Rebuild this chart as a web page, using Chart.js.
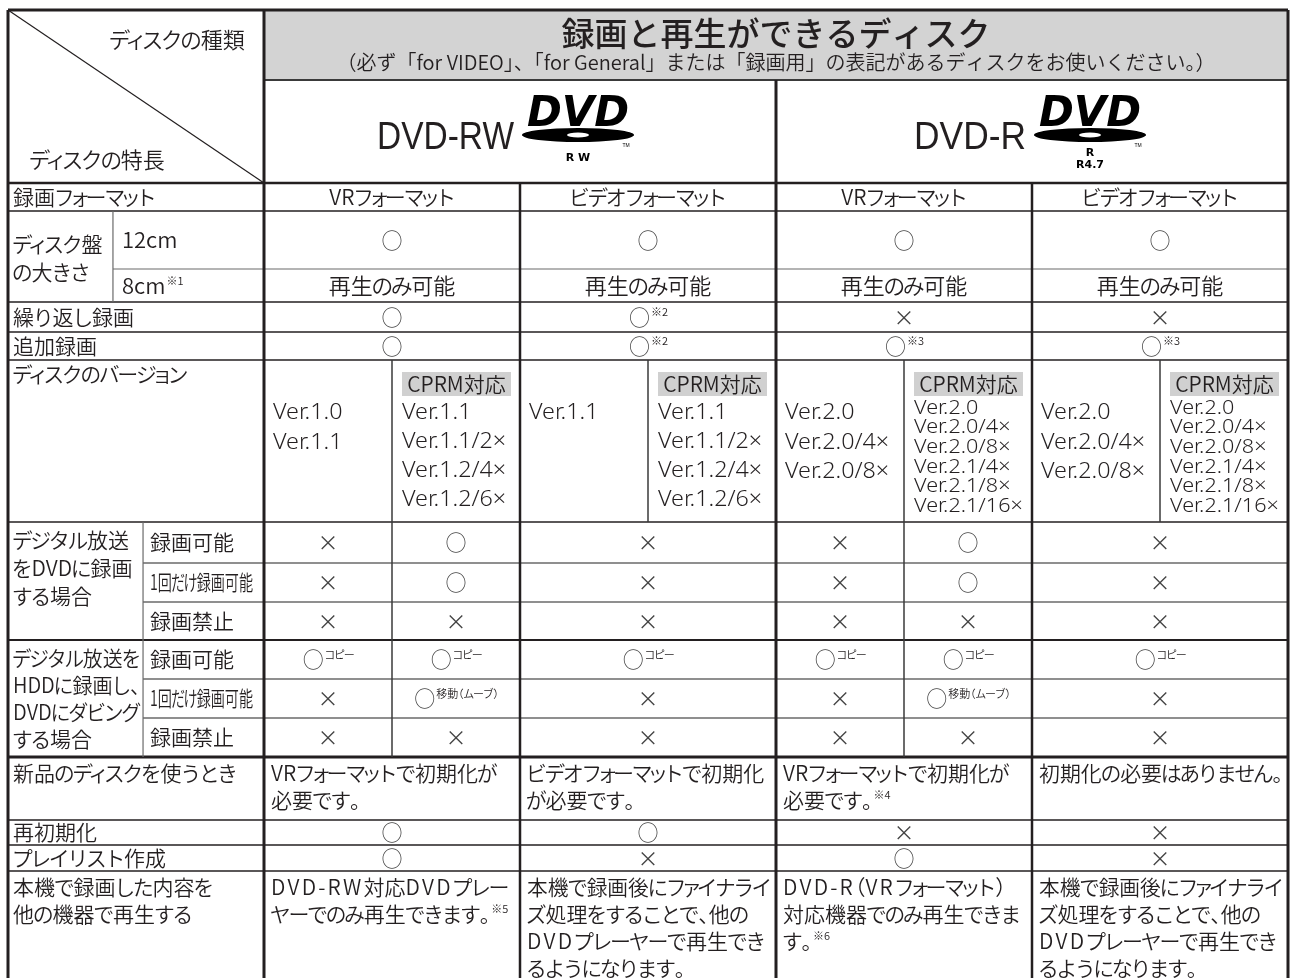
<!DOCTYPE html>
<html lang="ja">
<head>
<meta charset="utf-8">
<title>録画と再生ができるディスク</title>
<script src="https://cdn.jsdelivr.net/npm/chart.js@4.4.1/dist/chart.umd.min.js"></script>
<style>
  html, body { margin: 0; padding: 0; background: #fff; }
  #wrap { width: 1290px; height: 978px; position: relative; }
</style>
</head>
<body>
<div id="wrap"><canvas id="discChart"></canvas></div>
<script>
// ---- table content ----
var titleText = '録画と再生ができるディスク';
var subTitle = '（必ず「for VIDEO」、「for General」または「録画用」の表記があるディスクをお使いください。）';
var cornerTop = 'ディスクの種類';
var cornerBottom = 'ディスクの特長';
var discTypes = ['DVD-RW', 'DVD-R'];
var discMarks = [['R W'], ['R', 'R4.7']];

// left column labels
var rowLabels = ['録画フォーマット', ['ディスク盤', 'の大きさ'], '繰り返し録画', '追加録画', 'ディスクのバージョン'];
var sizeLabels = ['12cm', '8cm^※1'];
var dvdLabel = ['デジタル放送', 'をDVDに録画', 'する場合'];
var hddLabel = ['デジタル放送を', 'HDDに録画し、', 'DVDにダビング', 'する場合'];
var permitLabels = ['録画可能', '1回だけ録画可能', '録画禁止'];
var lowerLabels = [['新品のディスクを使うとき'], ['再初期化'], ['プレイリスト作成'], ['本機で録画した内容を', '他の機器で再生する']];

// one entry per column: DVD-RW VR, DVD-RW video, DVD-R VR, DVD-R video
var formats = ['VRフォーマット', 'ビデオフォーマット', 'VRフォーマット', 'ビデオフォーマット'];
var size12cm = ['○', '○', '○', '○'];
var size8cm = ['再生のみ可能', '再生のみ可能', '再生のみ可能', '再生のみ可能'];
var repeatRec = ['○', '○^※2', '×', '×'];
var addRec = ['○', '○^※2', '○^※3', '○^※3'];
var versions = [
  ['Ver.1.0', 'Ver.1.1'],
  ['Ver.1.1'],
  ['Ver.2.0', 'Ver.2.0/4×', 'Ver.2.0/8×'],
  ['Ver.2.0', 'Ver.2.0/4×', 'Ver.2.0/8×']
];
var cprmLabel = 'CPRM対応';
var cprmVersions = [
  ['Ver.1.1', 'Ver.1.1/2×', 'Ver.1.2/4×', 'Ver.1.2/6×'],
  ['Ver.1.1', 'Ver.1.1/2×', 'Ver.1.2/4×', 'Ver.1.2/6×'],
  ['Ver.2.0', 'Ver.2.0/4×', 'Ver.2.0/8×', 'Ver.2.1/4×', 'Ver.2.1/8×', 'Ver.2.1/16×'],
  ['Ver.2.0', 'Ver.2.0/4×', 'Ver.2.0/8×', 'Ver.2.1/4×', 'Ver.2.1/8×', 'Ver.2.1/16×']
];
// two entries = split into (normal disc, CPRM disc)
var dvdOk = [['×', '○'], ['×'], ['×', '○'], ['×']];
var dvdOnce = [['×', '○'], ['×'], ['×', '○'], ['×']];
var dvdNo = [['×', '×'], ['×'], ['×', '×'], ['×']];
var hddOk = [['○^コピー', '○^コピー'], ['○^コピー'], ['○^コピー', '○^コピー'], ['○^コピー']];
var hddOnce = [['×', '○^移動（ムーブ）'], ['×'], ['×', '○^移動（ムーブ）'], ['×']];
var hddNo = [['×', '×'], ['×'], ['×', '×'], ['×']];
var newDisc = [
  ['VRフォーマットで初期化が', '必要です。'],
  ['ビデオフォーマットで初期化', 'が必要です。'],
  ['VRフォーマットで初期化が', '必要です。^※4'],
  ['初期化の必要はありません。']
];
var reinit = ['○', '○', '×', '×'];
var playlist = ['○', '×', '○', '×'];
var otherPlay = [
  ['DVD-RW対応DVDプレー', 'ヤーでのみ再生できます。^※5'],
  ['本機で録画後にファイナライ', 'ズ処理をすることで、他の', 'DVDプレーヤーで再生でき', 'るようになります。'],
  ['DVD-R（VRフォーマット）', '対応機器でのみ再生できま', 'す。^※6'],
  ['本機で録画後にファイナライ', 'ズ処理をすることで、他の', 'DVDプレーヤーで再生でき', 'るようになります。']
];

// ---- layout (row boundaries from the top of the table) ----
var rowEdges = [0, 70, 173, 201, 259, 292, 322, 350, 512, 553, 592, 630, 669, 708, 747, 810, 835, 861, 968];
var sizeDivX = -1.18;    // 12cm / 8cm sub column
var permitDivX = -0.945; // 録画可能 sub column

var FONT = '"Noto Sans CJK JP", "Noto Sans", sans-serif';
var LATIN = '"Noto Sans", "Liberation Sans", sans-serif';
var INK = '#231f20';
var WEIGHT = 350;

function setFont(ctx, size, family, weight) {
  ctx.font = (weight || WEIGHT) + ' ' + size + 'px ' + (family || FONT);
}

// rough proportional kana spacing: [advance, ink shift] in em
function charBox(ch) {
  if ('ぁぃぅぇぉっゃゅょァィゥェォッャュョ'.indexOf(ch) >= 0) return [0.62, -0.19];
  if (ch == 'ー') return [0.9, -0.05];
  if ('「（'.indexOf(ch) >= 0) return [0.5, -0.5];
  if ('」）、。'.indexOf(ch) >= 0) return [0.5, 0];
  if (/[\u3040-\u30ff]/.test(ch)) return [0.88, -0.06];
  return null;
}

function layoutJp(ctx, s, size, track) {
  var items = [], w = 0;
  for (var ch of s) {
    var b = charBox(ch), adv, dx = 0;
    if (b) { adv = b[0] * size; dx = b[1] * size; }
    else {
      adv = ctx.measureText(ch).width;
      if (ch.charCodeAt(0) < 0x2000 && ch != '×') adv += track || 0;
    }
    items.push({ ch: ch, x: w + dx });
    w += adv;
  }
  return { items: items, width: w };
}

function drawJp(ctx, lay, x, y, squeeze) {
  ctx.save();
  ctx.translate(x, y);
  if (squeeze < 1) ctx.scale(squeeze, 1);
  lay.items.forEach(function(it) { ctx.fillText(it.ch, it.x, 0); });
  ctx.restore();
}

// text with an optional superscript note after "^"
// align: 'left', 'center' or 'right'
function noteText(ctx, s, x, cy, size, align, maxW, track) {
  var parts = s.split('^');
  ctx.textAlign = 'left';
  ctx.textBaseline = 'middle';
  setFont(ctx, size);
  var main = layoutJp(ctx, parts[0], size, track);
  var sq = maxW && main.width > maxW ? maxW / main.width : 1;
  var w0 = main.width * sq;
  var note = null;
  if (parts[1]) {
    setFont(ctx, 11);
    note = layoutJp(ctx, parts[1], 11, 0);
  }
  var w1 = note ? note.width : 0;
  var x0 = x;
  if (align == 'center') x0 = x - (w0 + w1) / 2;
  if (align == 'right') x0 = x - (w0 + w1);
  setFont(ctx, size);
  ctx.fillStyle = (parts[0] == '○' || parts[0] == '×') ? '#444' : INK;
  drawJp(ctx, main, x0, cy, sq);
  if (note) {
    setFont(ctx, 11);
    ctx.fillStyle = INK;
    drawJp(ctx, note, x0 + w0 + 1, cy - 5, 1);
  }
}

function latinText(ctx, s, x, y, size, stretch) {
  setFont(ctx, size, LATIN);
  ctx.save();
  ctx.translate(x, y);
  ctx.scale(stretch, 1);
  ctx.fillText(s, 0, 0);
  ctx.restore();
}

function drawDvdLogo(ctx, cx, top, marks) {
  ctx.save();
  ctx.fillStyle = '#000';
  ctx.textAlign = 'center';
  ctx.textBaseline = 'alphabetic';
  ctx.font = 'italic 900 42px "DejaVu Sans", sans-serif';
  ctx.fillText('DVD', cx, top + 31, 110);
  ctx.beginPath();
  ctx.ellipse(cx, top + 40, 56, 7, 0, 0, Math.PI * 2);
  ctx.fill();
  ctx.fillStyle = '#fff';
  ctx.beginPath();
  ctx.ellipse(cx, top + 40, 11, 2.6, 0, 0, Math.PI * 2);
  ctx.fill();
  ctx.fillStyle = '#000';
  ctx.font = 'bold 11px "DejaVu Sans", sans-serif';
  if (marks.length == 1) {
    ctx.fillText(marks[0], cx, top + 66);
  } else {
    ctx.fillText(marks[0], cx, top + 61);
    ctx.fillText(marks[1], cx, top + 73);
  }
  ctx.font = '5px sans-serif';
  ctx.fillText('TM', cx + 48, top + 52);
  ctx.restore();
}

var tablePlugin = {
  id: 'discTable',
  afterDraw: function(chart) {
    var ctx = chart.ctx;
    var xs = chart.scales.x, ys = chart.scales.y;
    var X = function(v) { return xs.getPixelForValue(v); };
    var Y = function(v) { return ys.getPixelForValue(v); };
    var rowTop = function(r) { return Y(rowEdges[r]); };
    var rowMid = function(r) { return (Y(rowEdges[r]) + Y(rowEdges[r + 1])) / 2; };

    function hline(v, x0, x1, w, c) {
      ctx.beginPath(); ctx.lineWidth = w; ctx.strokeStyle = c;
      ctx.moveTo(X(x0), Y(v)); ctx.lineTo(X(x1), Y(v)); ctx.stroke();
    }
    function vline(v, y0, y1, w, c) {
      ctx.beginPath(); ctx.lineWidth = w; ctx.strokeStyle = c;
      ctx.moveTo(X(v), Y(y0)); ctx.lineTo(X(v), Y(y1)); ctx.stroke();
    }

    ctx.save();
    // grey title band
    ctx.fillStyle = '#d3d3d3';
    ctx.fillRect(X(0), Y(0), X(8) - X(0), Y(rowEdges[1]) - Y(0));

    // header
    ctx.fillStyle = INK;
    ctx.textAlign = 'center';
    ctx.textBaseline = 'middle';
    setFont(ctx, 33, FONT, 500);
    ctx.fillText(titleText, X(4), Y(23));
    setFont(ctx, 20);
    ctx.fillText(subTitle, X(4), Y(52), 952);

    noteText(ctx, cornerTop, X(-0.15), Y(30), 22, 'right');
    noteText(ctx, cornerBottom, X(-1.83), Y(150), 22, 'left');

    discTypes.forEach(function(name, i) {
      var cx = X(4 * i + 2);
      ctx.fillStyle = INK;
      ctx.textAlign = 'right';
      ctx.textBaseline = 'alphabetic';
      ctx.font = '38px "Liberation Sans", sans-serif';
      ctx.fillText(name, cx - 6, Y(139), i == 0 ? 137 : 112);
      drawDvdLogo(ctx, cx + 58, Y(85), discMarks[i]);
    });

    // left labels
    var lx = X(-2) + 5;
    var leftW = X(permitDivX) - lx - 3;
    noteText(ctx, rowLabels[0], lx, rowMid(2), 21, 'left');
    noteText(ctx, rowLabels[1][0], lx, Y(234), 21, 'left');
    noteText(ctx, rowLabels[1][1], lx, Y(262), 21, 'left');
    noteText(ctx, sizeLabels[0], X(sizeDivX) + 9, rowMid(3), 22, 'left');
    noteText(ctx, sizeLabels[1], X(sizeDivX) + 9, rowMid(4), 22, 'left');
    noteText(ctx, rowLabels[2], lx, rowMid(5), 21, 'left');
    noteText(ctx, rowLabels[3], lx, rowMid(6), 21, 'left');
    noteText(ctx, rowLabels[4], lx, rowTop(7) + 14, 21, 'left');
    dvdLabel.forEach(function(s, i) { noteText(ctx, s, lx, rowTop(8) + 18 + i * 28, 21, 'left', leftW); });
    hddLabel.forEach(function(s, i) { noteText(ctx, s, lx, rowTop(11) + 18 + i * 27, 21, 'left', leftW); });
    [8, 11].forEach(function(r0) {
      permitLabels.forEach(function(s, i) {
        noteText(ctx, s, X(permitDivX) + 7, rowMid(r0 + i), 21, 'left', i == 1 ? 103 : 0);
      });
    });
    lowerLabels.forEach(function(lines, i) {
      var r = 14 + i;
      lines.forEach(function(s, j) {
        var cy = lines.length == 1 && r != 14 ? rowMid(r) : rowTop(r) + 16 + j * 27;
        noteText(ctx, s, lx, cy, 21, 'left');
      });
    });

    // simple rows: one value per column
    function simpleRow(arr, r, size) {
      arr.forEach(function(s, k) { noteText(ctx, s, X(2 * k + 1), rowMid(r), size, 'center'); });
    }
    simpleRow(formats, 2, 21);
    simpleRow(size12cm, 3, 21);
    simpleRow(size8cm, 4, 22);
    simpleRow(repeatRec, 5, 21);
    simpleRow(addRec, 6, 21);
    simpleRow(reinit, 15, 21);
    simpleRow(playlist, 16, 21);

    // split rows
    function splitRow(arr, r) {
      arr.forEach(function(cell, k) {
        if (cell.length == 1) noteText(ctx, cell[0], X(2 * k + 1), rowMid(r), 21, 'center');
        else cell.forEach(function(s, h) { noteText(ctx, s, X(2 * k + h + 0.5), rowMid(r), 21, 'center'); });
      });
    }
    [dvdOk, dvdOnce, dvdNo, hddOk, hddOnce, hddNo].forEach(function(arr, i) { splitRow(arr, 8 + i); });

    // versions
    var vTop = rowTop(7);
    versions.forEach(function(list, k) {
      var x0 = X(2 * k) + 9;
      ctx.fillStyle = INK;
      ctx.textAlign = 'left';
      ctx.textBaseline = 'middle';
      list.forEach(function(s, j) { latinText(ctx, s, x0, vTop + 53 + j * 29.5, 22, 1.06); });

      var hx = X(2 * k + 1);
      ctx.fillStyle = '#d0d0d0';
      ctx.fillRect(hx + 10, vTop + 12, 109, 24);
      ctx.fillStyle = INK;
      setFont(ctx, 21);
      ctx.textAlign = 'center';
      ctx.fillText(cprmLabel, hx + 64.5, vTop + 24.5, 104);
      ctx.textAlign = 'left';
      var cp = cprmVersions[k];
      cp.forEach(function(s, j) {
        if (cp.length > 4) latinText(ctx, s, hx + 10, vTop + 48 + j * 19.6, 20, 1.08);
        else latinText(ctx, s, hx + 10, vTop + 53 + j * 29, 22, 1.06);
      });
    });

    // paragraph rows
    [[newDisc, 14, 0], [otherPlay, 17, 2.2]].forEach(function(grp) {
      grp[0].forEach(function(lines, k) {
        lines.forEach(function(s, j) {
          noteText(ctx, s, X(2 * k) + 7, rowTop(grp[1]) + 16 + j * 27, 21, 'left', X(2) - X(0) - 12, grp[2]);
        });
      });
    });

    // grid
    var dark = '#231f20', mid = '#3a3a3a', soft = '#6a6a6a';
    ctx.lineCap = 'butt';
    hline(rowEdges[1], 0, 8, 2, mid);
    hline(rowEdges[2], -2, 8, 2.5, dark);
    [3, 5, 6, 7, 8, 15, 16, 17].forEach(function(r) { hline(rowEdges[r], -2, 8, 1.6, dark); });
    hline(rowEdges[11], -2, 8, 2, dark);
    hline(rowEdges[14], -2, 8, 3, dark);
    hline(rowEdges[4], sizeDivX, 8, 1.2, soft);
    [9, 10, 12, 13].forEach(function(r) { hline(rowEdges[r], permitDivX, 8, 1.3, soft); });

    vline(sizeDivX, rowEdges[3], rowEdges[5], 1.2, soft);
    vline(permitDivX, rowEdges[8], rowEdges[14], 1.2, soft);
    [1, 3, 5, 7].forEach(function(v) { vline(v, rowEdges[7], rowEdges[8], 1.5, mid); });
    [1, 5].forEach(function(v) { vline(v, rowEdges[8], rowEdges[14], 1.5, mid); });
    [2, 6].forEach(function(v) { vline(v, rowEdges[2], rowEdges[18], 2.5, dark); });
    vline(4, rowEdges[1], rowEdges[18], 3, dark);
    vline(0, 0, rowEdges[18], 3, dark);

    // corner diagonal
    ctx.beginPath(); ctx.lineWidth = 1.2; ctx.strokeStyle = dark;
    ctx.moveTo(X(-2), Y(0)); ctx.lineTo(X(0), Y(rowEdges[2])); ctx.stroke();

    // outer frame (bottom left open)
    hline(0, -2, 8, 3, dark);
    vline(-2, 0, rowEdges[18], 3, dark);
    vline(8, 0, rowEdges[18], 3, dark);
    ctx.restore();
  }
};

var ctx = document.getElementById('discChart');
var discChart = new Chart(ctx, {
  type: 'scatter',
  data: { datasets: [{ data: [], pointRadius: 0 }] },
  options: {
    responsive: true,
    maintainAspectRatio: false,
    animation: false,
    events: [],
    layout: { padding: { left: 8, right: 2, top: 10, bottom: 0 } },
    plugins: { legend: { display: false }, tooltip: { enabled: false } },
    scales: {
      x: { type: 'linear', min: -2, max: 8, display: false },
      y: { type: 'linear', min: 0, max: rowEdges[rowEdges.length - 1], reverse: true, display: false }
    }
  },
  plugins: [tablePlugin]
});
</script>
</body>
</html>
